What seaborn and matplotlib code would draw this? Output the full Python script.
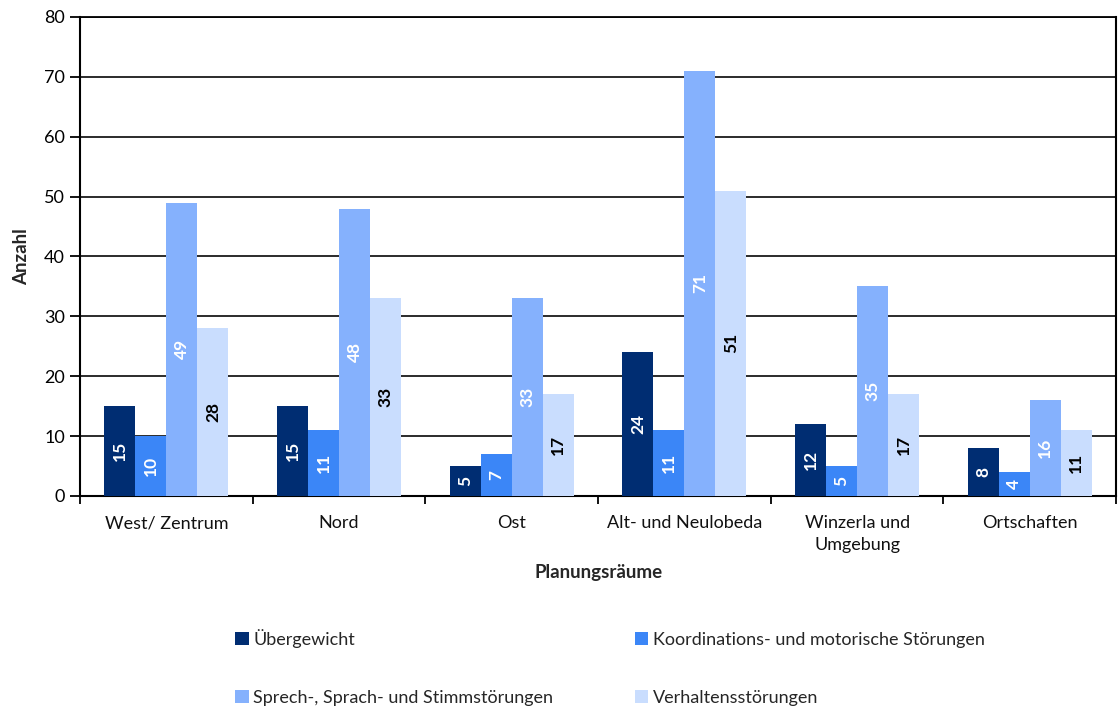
import matplotlib
matplotlib.use("Agg")
import matplotlib.pyplot as plt
import seaborn as sns
import pandas as pd
import numpy as np
from matplotlib.ticker import FixedLocator, NullFormatter

categories = ["West/ Zentrum", "Nord", "Ost", "Alt- und Neulobeda", "Winzerla und\nUmgebung", "Ortschaften"]
series = ["Übergewicht", "Koordinations- und motorische Störungen",
          "Sprech-, Sprach- und Stimmstörungen", "Verhaltensstörungen"]
uebergewicht = [15, 15, 5, 24, 12, 8]
koordination = [10, 11, 7, 11, 5, 4]
sprech = [49, 48, 33, 71, 35, 16]
verhalten = [28, 33, 17, 51, 17, 11]
colors = ["#002D72", "#3B86F7", "#85B1FD", "#C9DDFE"]
label_colors = ["white", "white", "white", "black"]

rows = []
for s, vals in zip(series, [uebergewicht, koordination, sprech, verhalten]):
    for c, v in zip(categories, vals):
        rows.append({"Planungsraum": c, "Serie": s, "Anzahl": v})
df = pd.DataFrame(rows)

sns.set_style("white")
plt.rcParams['font.family'] = ['Lato', 'DejaVu Sans']

fig = plt.figure(figsize=(11.18, 7.11), dpi=100)
ax = fig.add_axes([0.0716, 0.3024, 0.9267, 0.6737])

sns.barplot(data=df, x="Planungsraum", y="Anzahl", hue="Serie", order=categories,
            hue_order=series, palette=colors, width=0.718, gap=0, saturation=1,
            edgecolor="none", linewidth=0, ax=ax, legend=True, zorder=3)

for cont, lc in zip(ax.containers, label_colors):
    ax.bar_label(cont, labels=[str(int(b.get_height())) for b in cont],
                 label_type="center", rotation=90, color=lc, fontsize=12.5,
                 fontweight="bold")

ax.set_ylim(0, 80)
ax.set_xlim(-0.5, len(categories) - 0.5)
ax.set_yticks(np.arange(0, 81, 10))
ax.yaxis.grid(True, color="#1a1a1a", linewidth=1.3, zorder=0)
ax.set_axisbelow(True)
for sp in ax.spines.values():
    sp.set_visible(True)
    sp.set_color("black")
    sp.set_linewidth(1.5)
ax.spines["top"].set_linewidth(1.3)

ax.tick_params(axis="y", which="major", direction="out", length=7, width=1.3,
               colors="black", labelsize=13, left=True, pad=4)
ax.tick_params(axis="x", which="major", length=0, labelsize=13, pad=14)
ax.xaxis.set_minor_locator(FixedLocator(np.arange(-0.5, len(categories), 1.0)))
ax.xaxis.set_minor_formatter(NullFormatter())
ax.tick_params(axis="x", which="minor", direction="out", length=6, width=1.3,
               colors="black", bottom=True)
for t in ax.get_xticklabels():
    t.set_color("#111111")
    t.set_linespacing(1.45)
    t.set_verticalalignment("top")

ax.set_xlabel("Planungsräume", fontsize=13.5, fontweight="bold", labelpad=8)
ax.set_ylabel("Anzahl", fontsize=13.5, fontweight="bold", labelpad=10)

handles, labels = ax.get_legend_handles_labels()
order = [0, 2, 1, 3]
ax.legend([handles[i] for i in order], [labels[i] for i in order],
          loc="upper left", bbox_to_anchor=(0.143, -0.262),
          ncol=2, frameon=False, fontsize=13, handlelength=0.75, handleheight=0.75,
          handletextpad=0.25, columnspacing=4.5, labelspacing=2.35, borderaxespad=0)

fig.savefig("out.png", dpi=100)
